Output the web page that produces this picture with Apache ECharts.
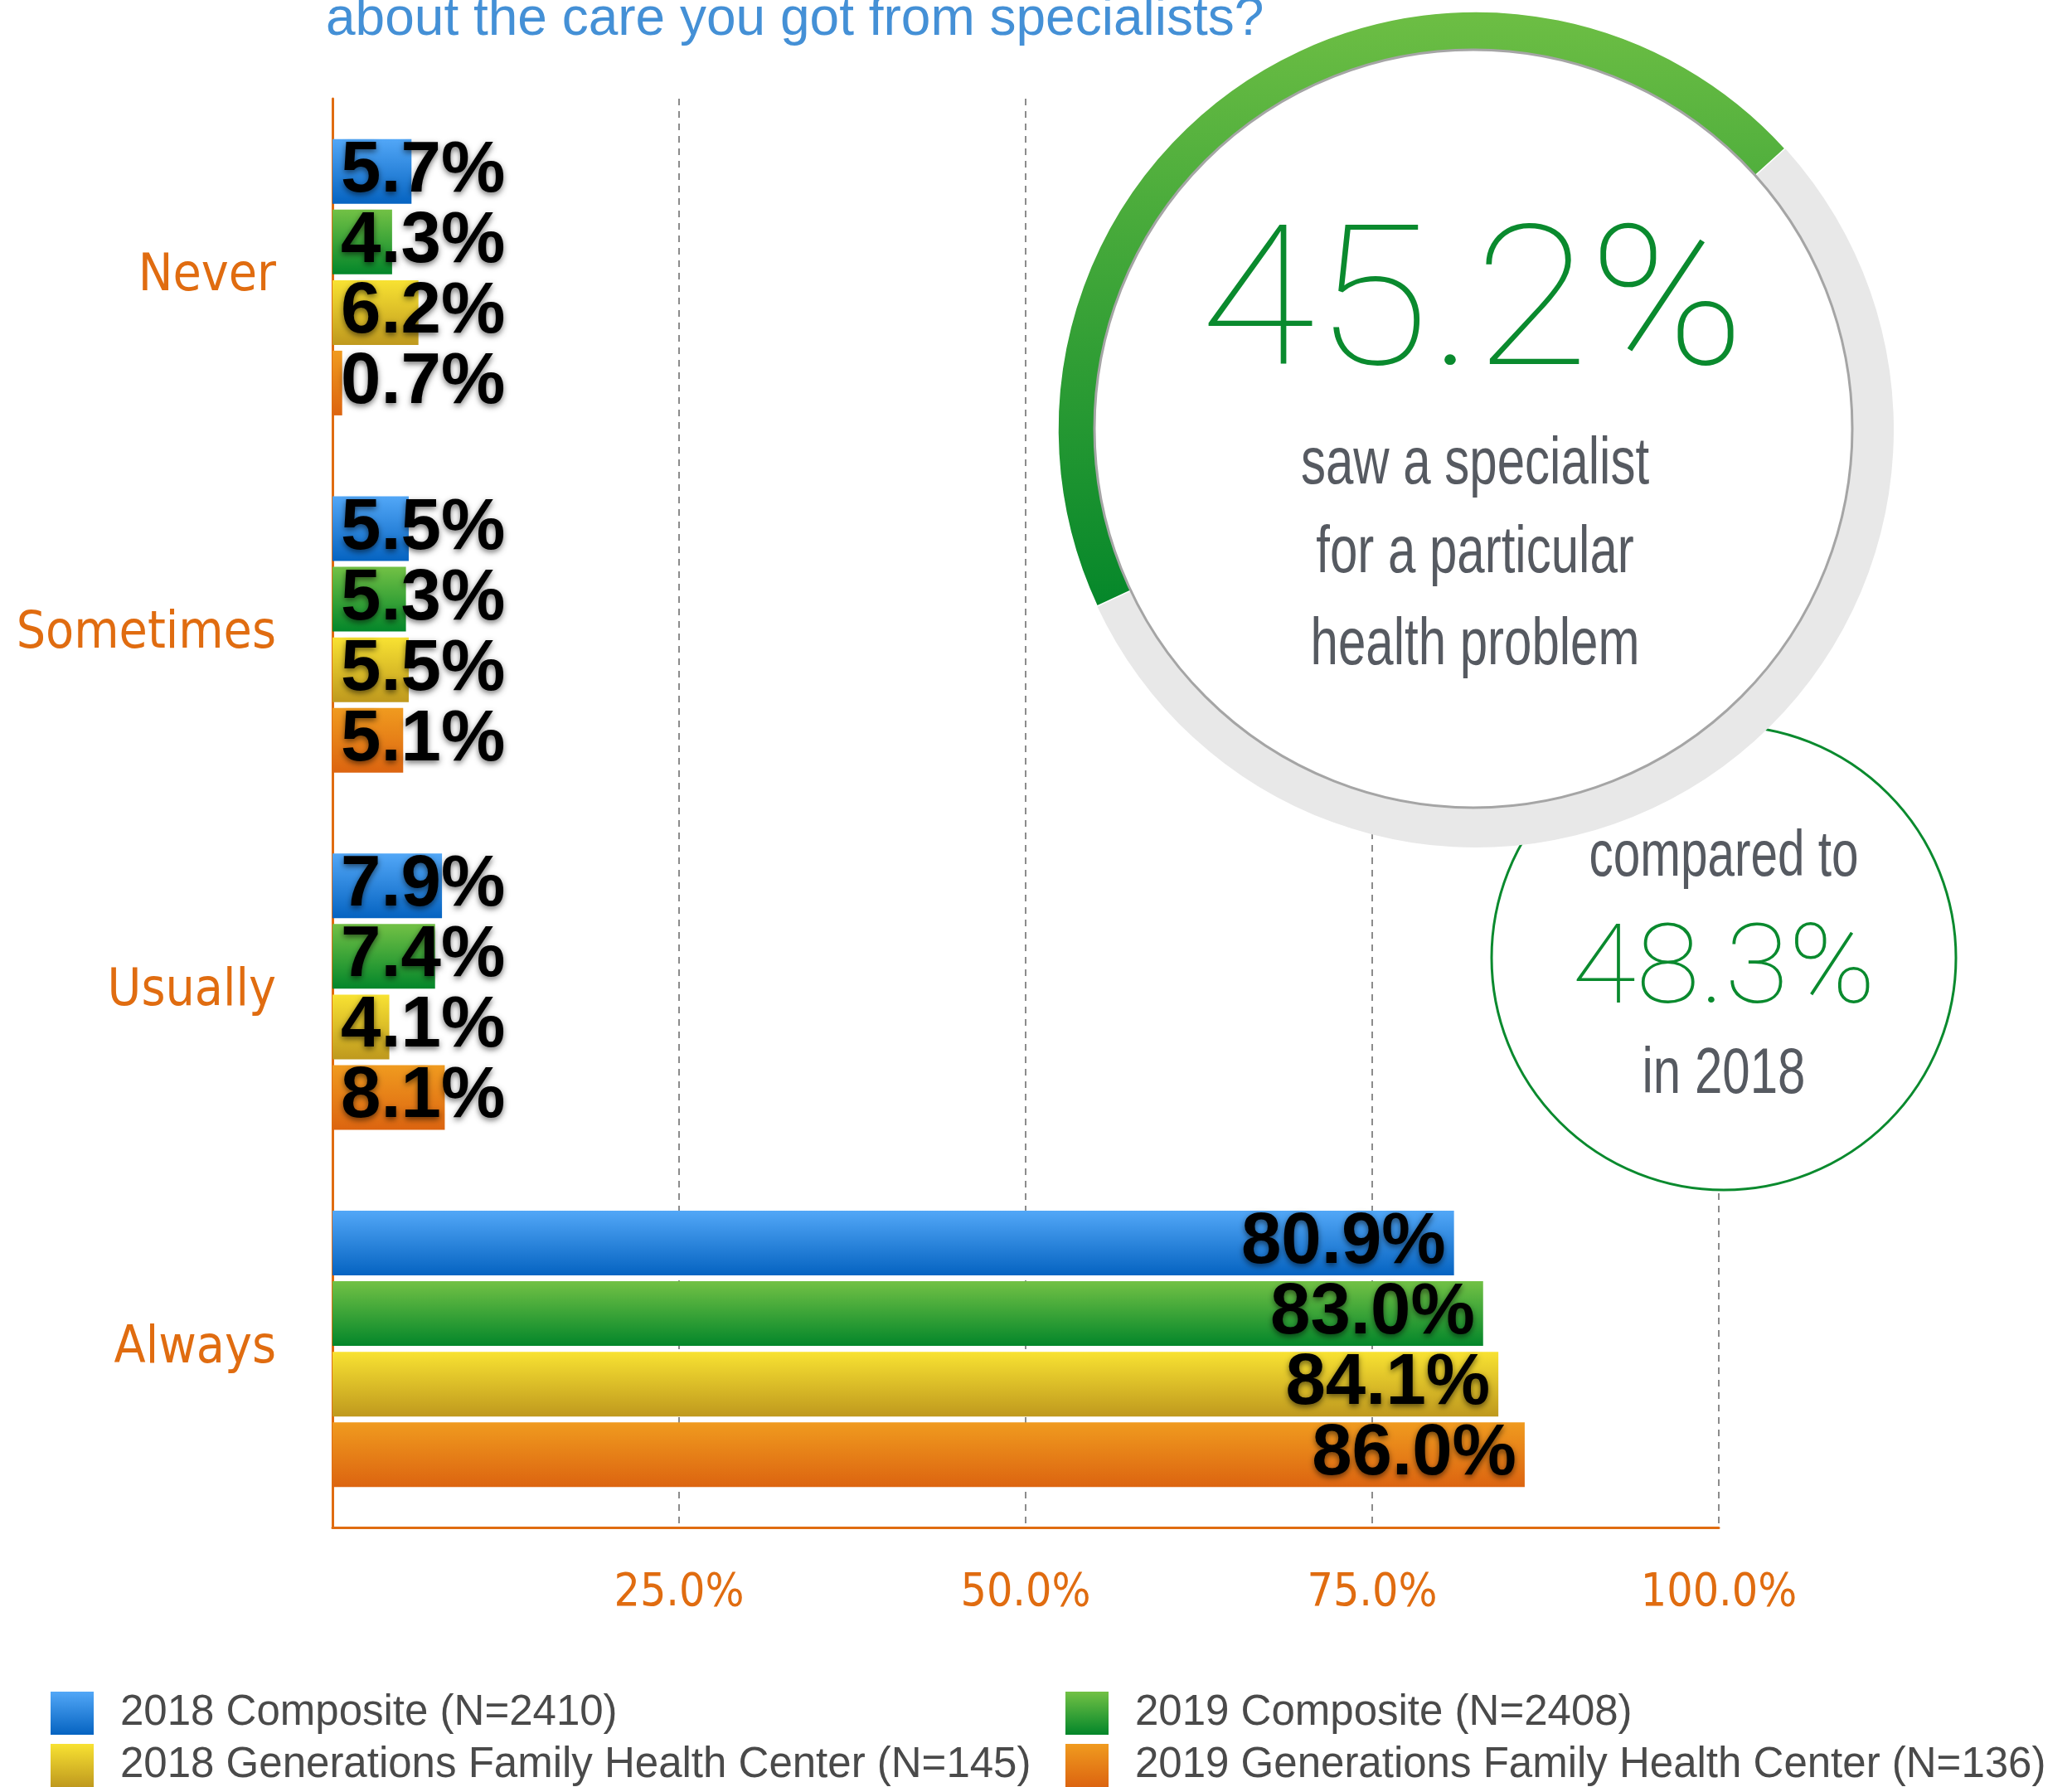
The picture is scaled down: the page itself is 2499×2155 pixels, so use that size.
<!DOCTYPE html>
<html>
<head>
<meta charset="utf-8">
<script src="https://cdn.jsdelivr.net/npm/echarts@6/dist/echarts.min.js"></script>
<style>
html,body{margin:0;padding:0;background:#fff;}
#chart{width:2499px;height:2155px;}
</style>
</head>
<body>
<div id="chart"></div>
<script>
// ---- data ----
const categories = ['Never', 'Sometimes', 'Usually', 'Always'];
const seriesNames = [
  '2018 Composite (N=2410)',
  '2019 Composite (N=2408)',
  '2018 Generations Family Health Center (N=145)',
  '2019 Generations Family Health Center (N=136)'
];
const composite2018 = [5.7, 5.5, 7.9, 80.9];
const composite2019 = [4.3, 5.3, 7.4, 83.0];
const generations2018 = [6.2, 5.5, 4.1, 84.1];
const generations2019 = [0.7, 5.1, 8.1, 86.0];
const xTickValues = [25, 50, 75, 100];
const xTickLabels = ['25.0%', '50.0%', '75.0%', '100.0%'];
const sawSpecialist2019 = 45.2;
const sawSpecialist2018 = 48.3;
const titleText = 'about the care you got from specialists?';
const bigCircleLines = ['saw a specialist', 'for a particular', 'health problem'];

// ---- styling ----
const ORANGE = '#E06C10';
const GRAY_TXT = '#565A61';
const GREEN_TXT = '#0A8A2E';
const COND = "'DejaVu Sans Condensed','Liberation Sans Narrow',sans-serif";
const SANS = "'Liberation Sans',Arial,sans-serif";
const grad = (top, bottom) => new echarts.graphic.LinearGradient(0, 0, 0, 1, [
  {offset: 0, color: top}, {offset: 1, color: bottom}
]);
const barColors = [
  grad('#52A7F7', '#0563C1'),
  grad('#72C145', '#03862A'),
  grad('#F8E232', '#BF991E'),
  grad('#F09B1F', '#DC6410')
];
const seriesValues = [composite2018, composite2019, generations2018, generations2019];

function makeBarSeries(i) {
  return {
    name: seriesNames[i],
    type: 'bar',
    barWidth: 78,
    barGap: '9%',
    z: 2,
    itemStyle: {color: barColors[i]},
    data: seriesValues[i].map(v => ({
      value: v,
      label: {position: v > 50 ? 'insideRight' : 'insideLeft'}
    })),
    label: {
      show: true,
      distance: 10,
      formatter: p => p.value.toFixed(1) + '%',
      fontFamily: SANS,
      fontWeight: 'bold',
      fontSize: 87,
      color: '#000',
      textShadowColor: 'rgba(0,0,0,0.55)',
      textShadowBlur: 7,
      textShadowOffsetY: 3
    }
  };
}

const BIG = {cx: 1780, cy: 518, r: 504};
const INNER = {cx: 1777, cy: 517, r: 457};
const SMALL = {cx: 2079, cy: 1155, r: 280};

function grayText(text, x, y, size, sx) {
  return {
    type: 'text', x: x, y: y, z: 10, scaleX: sx,
    style: {
      text: text, fill: GRAY_TXT,
      font: size + 'px ' + SANS,
      align: 'center', verticalAlign: 'middle'
    }
  };
}

const chart = echarts.init(document.getElementById('chart'), null, {renderer: 'canvas'});
const legendText = {
  fontFamily: SANS,
  fontSize: 51,
  lineHeight: 52,
  color: '#4A4A4A',
  padding: [0, 0, 0, 27]
};
const option = {
  backgroundColor: '#fff',
  animation: false,
  grid: {left: 401, right: 426, top: 119, bottom: 313, containLabel: false, outerBoundsMode: 'none'},
  xAxis: {
    type: 'value',
    min: 0, max: 100, interval: 25,
    axisLine: {show: true, lineStyle: {color: ORANGE, width: 3}},
    axisTick: {show: false},
    splitLine: {show: true, lineStyle: {color: '#8C8C8C', width: 2, type: [8, 7]}},
    axisLabel: {
      margin: 52,
      fontFamily: COND,
      fontSize: 55,
      color: ORANGE,
      formatter: v => {
        const k = xTickValues.indexOf(v);
        return k >= 0 ? xTickLabels[k] : '';
      }
    }
  },
  yAxis: {
    type: 'category',
    data: categories,
    inverse: true,
    axisLine: {show: true, lineStyle: {color: ORANGE, width: 3}},
    axisTick: {show: false},
    axisLabel: {margin: 68, fontFamily: COND, fontSize: 62, color: ORANGE}
  },
  legend: [
    {
      orient: 'vertical', left: 56, top: 2035, height: 300,
      itemWidth: 52, itemHeight: 52, itemGap: 11,
      icon: 'rect',
      data: [seriesNames[0], seriesNames[2]],
      textStyle: legendText
    },
    {
      orient: 'vertical', left: 1280, top: 2035, height: 300,
      itemWidth: 52, itemHeight: 52, itemGap: 11,
      icon: 'rect',
      data: [seriesNames[1], seriesNames[3]],
      textStyle: legendText
    }
  ],
  series: [
    makeBarSeries(0), makeBarSeries(1), makeBarSeries(2), makeBarSeries(3),
    {
      type: 'gauge',
      z: 4,
      center: [BIG.cx, BIG.cy],
      radius: BIG.r,
      startAngle: 205,
      endAngle: -155,
      min: 0, max: 100,
      progress: {
        show: true,
        width: 50,
        itemStyle: {
          color: new echarts.graphic.LinearGradient(0, 14, 0, 730, [
            {offset: 0, color: '#6DBE44'}, {offset: 1, color: '#05872A'}
          ], true),
          borderColor: '#ffffff',
          borderWidth: 1.5
        }
      },
      axisLine: {lineStyle: {width: 50, color: [[1, '#E8E8E8']]}},
      pointer: {show: false},
      anchor: {show: false},
      axisTick: {show: false},
      splitLine: {show: false},
      axisLabel: {show: false},
      title: {show: false},
      detail: {show: false},
      data: [{value: sawSpecialist2019}]
    }
  ],
  graphic: {
    elements: [
      {
        type: 'text', x: 393, y: 24, z: 10,
        style: {
          text: titleText, fill: '#4490D6',
          font: '64px ' + SANS,
          align: 'left', verticalAlign: 'middle'
        }
      },
      {
        type: 'circle', z: 3,
        shape: {cx: SMALL.cx, cy: SMALL.cy, r: SMALL.r},
        style: {fill: '#ffffff', stroke: '#0A8A2E', lineWidth: 3}
      },
      {
        type: 'circle', z: 5,
        shape: {cx: INNER.cx, cy: INNER.cy, r: INNER.r},
        style: {fill: '#ffffff', stroke: '#A5A5A5', lineWidth: 3}
      },
      {
        type: 'text', x: 1776, y: 380, z: 10, scaleX: 1.07,
        style: {
          text: sawSpecialist2019.toFixed(1) + '%', fill: GREEN_TXT,
          font: "100 236px Roboto,'Liberation Sans',sans-serif",
          align: 'center', verticalAlign: 'middle'
        }
      },
      grayText(bigCircleLines[0], 1779, 561, 80, 0.75),
      grayText(bigCircleLines[1], 1779, 668, 80, 0.75),
      grayText(bigCircleLines[2], 1779, 779, 80, 0.75),
      grayText('compared to', SMALL.cx, 1034, 78, 0.75),
      {
        type: 'text', x: SMALL.cx, y: 1175, z: 10, scaleX: 1.05,
        style: {
          text: sawSpecialist2018.toFixed(1) + '%', fill: GREEN_TXT,
          font: "100 134px Roboto,'Liberation Sans',sans-serif",
          align: 'center', verticalAlign: 'middle'
        }
      },
      grayText('in 2018', SMALL.cx, 1296, 78, 0.77)
    ]
  }
};
chart.setOption(option);
</script>
</body>
</html>
